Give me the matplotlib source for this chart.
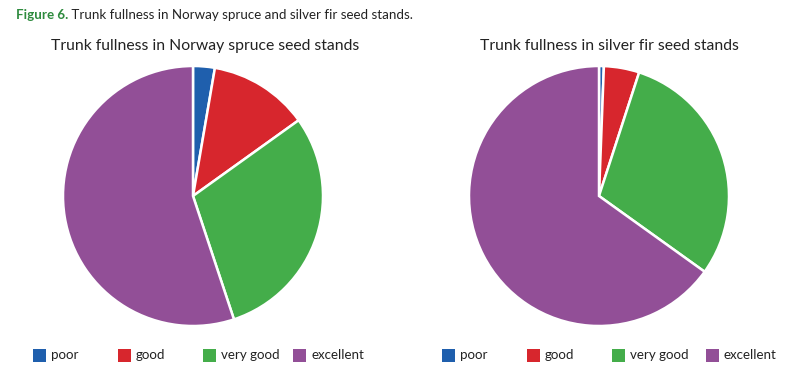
import matplotlib
matplotlib.use("Agg")
import matplotlib.pyplot as plt
from matplotlib.patches import Rectangle

plt.rcParams['font.family'] = ['Lato', 'DejaVu Sans']

categories = ["poor", "good", "very good", "excellent"]
spruce_values = [2.7, 12.4, 29.8, 55.1]
fir_values = [0.6, 4.4, 29.9, 65.1]
colors = ["#1f5fad", "#d7262d", "#44ad4a", "#924f97"]

caption_bold = "Figure 6."
caption_rest = " Trunk fullness in Norway spruce and silver fir seed stands."
title_left = "Trunk fullness in Norway spruce seed stands"
title_right = "Trunk fullness in silver fir seed stands"

W, H = 800, 392
fig = plt.figure(figsize=(W / 100, H / 100), dpi=100)

def add_pie(cx, cy, r, values, title, tx):
    ax = fig.add_axes([(cx - r) / W, (H - cy - r) / H, 2 * r / W, 2 * r / H])
    ax.pie(values, colors=colors, startangle=90, counterclock=False,
           wedgeprops=dict(edgecolor="white", linewidth=1.8))
    ax.set_xlim(-1, 1)
    ax.set_ylim(-1, 1)
    ax.set_aspect("equal")
    fig.text(tx / W, 1 - 46 / H, title, ha="center", va="center",
             fontsize=11.3, color="#222222")
    return ax

add_pie(193, 196, 130, spruce_values, title_left, 205)
add_pie(599, 196, 130, fir_values, title_right, 609)

# caption
t = fig.text(16 / W, 1 - 15 / H, caption_bold, ha="left", va="center",
             fontsize=9.6, fontweight="bold", color="#2e8b3e")
fig.canvas.draw()
bb = t.get_window_extent()
fig.text(bb.x1 / W, 1 - 15 / H, caption_rest, ha="left", va="center",
         fontsize=9.6, color="#222222")

# legends (square left edges in pixels)
legend_x = [[33, 118, 203, 293], [442, 527, 612, 706]]
ly = 355
sq = 13
for xs in legend_x:
    for x, c, lab in zip(xs, colors, categories):
        fig.patches.append(Rectangle((x / W, (H - ly - sq / 2) / H), sq / W, sq / H,
                                     transform=fig.transFigure, facecolor=c,
                                     edgecolor="none"))
        fig.text((x + sq + 5) / W, 1 - ly / H, lab, ha="left", va="center",
                 fontsize=9.6, color="#222222")

fig.savefig("out.png", dpi=100, facecolor="white")
